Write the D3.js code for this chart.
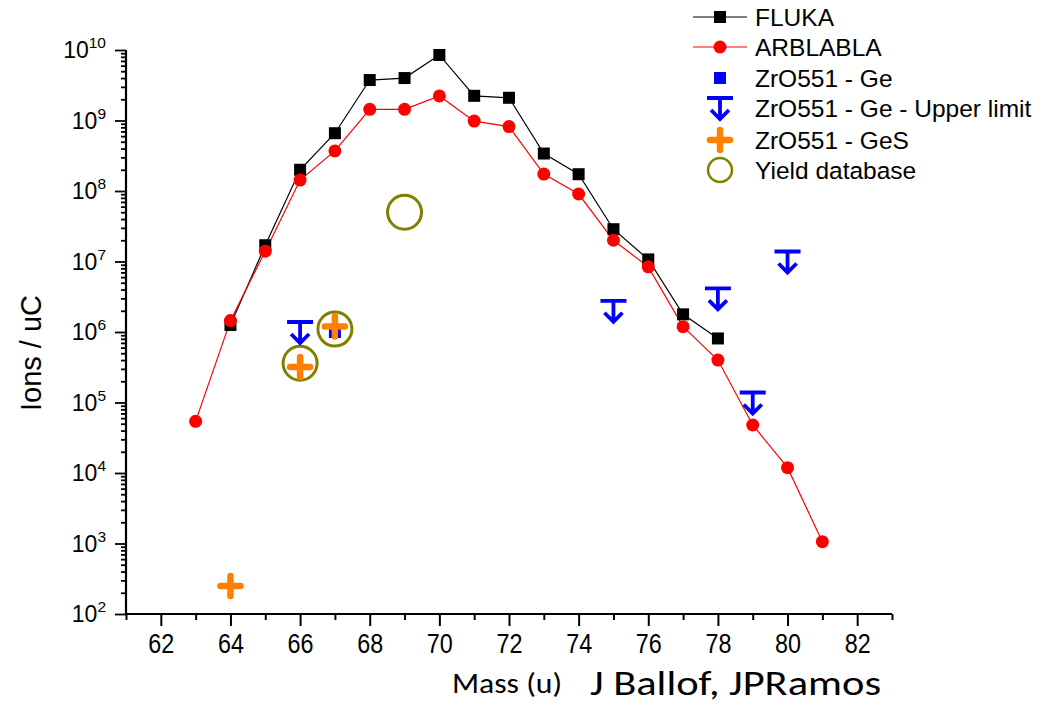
<!DOCTYPE html>
<html><head><meta charset="utf-8">
<script src="https://cdn.jsdelivr.net/npm/d3@7"></script>
<style>body{margin:0;background:#fff}svg{display:block}</style>
</head><body>
<svg id="c" width="1046" height="711"></svg>
<script>
// ---- data ----
const flukaMass = [64,65,66,67,68,69,70,71,72,73,74,75,76,77,78];
const flukaVals = [1.26e6,1.7e7,2.0e8,6.6e8,3.75e9,4.0e9,8.5e9,2.24e9,2.1e9,3.4e8,1.73e8,2.87e7,1.07e7,1.78e6,8.1e5];
const arbMass = [63,64,65,66,67,68,69,70,71,72,73,74,75,76,77,78,79,80,81];
const arbVals = [5.4e4,1.45e6,1.4e7,1.43e8,3.7e8,1.44e9,1.44e9,2.23e9,9.8e8,8.2e8,1.74e8,9.06e7,2.0e7,8.4e6,1.19e6,4.0e5,4.8e4,1.19e4,1.06e3];
const geMass = [67];
const geVals = [1.0e6];
const ulMass = [66,75,78,79,80];
const ulVals = [1.0e6,2.0e6,3.0e6,1.0e5,1.0e7];
const gesMass = [64,66,67];
const gesVals = [2.5e2,3.2e5,1.2e6];
const yieldMass = [66,67,69];
const yieldVals = [3.6e5,1.1e6,5.0e7];
const xMajorTicks = [62,64,66,68,70,72,74,76,78,80,82];
const xMinorTicks = [61,63,65,67,69,71,73,75,77,79,81,83];
const yExponents = [2,3,4,5,6,7,8,9,10];
const legendLabels = ["FLUKA","ARBLABLA","ZrO551 - Ge","ZrO551 - Ge - Upper limit","ZrO551 - GeS","Yield database"];
const xTitle = "Mass (u)";
const yTitle = "Ions / uC";
const credit = "J Ballof, JPRamos";

// ---- setup ----
const svg = d3.select("#c");
const x = d3.scaleLinear().domain([61,83]).range([126,892]);
const y = d3.scaleLog().domain([1e2,1e10]).range([614,50]);
const BLUE="#0000ff", ORANGE="#ff8000", OLIVE="#808000", RED="#ff0000";
const SANS = "Liberation Sans, Arial, sans-serif";

// axes
const minorY = [];
yExponents.slice(0,-1).forEach(e=>{for(let k=2;k<=9;k++) minorY.push(k*Math.pow(10,e));});

const gx = svg.append("g").attr("transform","translate(0,614)");
gx.call(d3.axisBottom(x).tickValues(xMinorTicks).tickSize(6).tickFormat(""));
gx.call(g=>g.selectAll(".domain").remove());
const gx2 = svg.append("g").attr("transform","translate(0,614)");
gx2.call(d3.axisBottom(x).tickValues(xMajorTicks).tickSize(12).tickPadding(8).tickFormat(d=>d));
gx2.selectAll("text").attr("font-family","Liberation Sans Narrow, "+SANS).attr("font-size",27)
  .attr("fill","#000").attr("textLength",26).attr("lengthAdjust","spacingAndGlyphs");
gx2.select(".domain").attr("d","M126,0H892");
[gx,gx2].forEach(g=>{g.selectAll("line").attr("stroke","#000").attr("stroke-width",2);g.selectAll(".domain").attr("stroke","#000").attr("stroke-width",2.2);});

const gy = svg.append("g").attr("transform","translate(126,0)");
gy.call(d3.axisLeft(y).tickValues(minorY).tickSize(5).tickFormat(""));
gy.select(".domain").remove();
const gy2 = svg.append("g").attr("transform","translate(126,0)");
gy2.call(d3.axisLeft(y).tickValues(yExponents.map(e=>Math.pow(10,e))).tickSize(11).tickFormat(""));
gy2.select(".domain").attr("d","M0,50V614");
[gy,gy2].forEach(g=>{g.selectAll("line").attr("stroke","#000").attr("stroke-width",1.8);g.selectAll(".domain").attr("stroke","#000").attr("stroke-width",2.2);});
yExponents.forEach(e=>{
  const t = svg.append("text").attr("x",106).attr("y",y(Math.pow(10,e))+8)
    .attr("text-anchor","end").attr("font-family",SANS).attr("font-size",23).attr("fill","#000");
  t.append("tspan").text("10");
  t.append("tspan").attr("font-size",15.5).attr("dy",-10).text(String(e));
});

// titles
svg.append("text").attr("transform","translate(41,353) rotate(-90)").attr("text-anchor","middle")
  .attr("font-family",SANS).attr("font-size",29).text(yTitle);
svg.append("text").attr("x",452).attr("y",693).attr("font-family","Carlito, Lato, "+SANS)
  .attr("font-size",28).attr("textLength",110).attr("lengthAdjust","spacingAndGlyphs").text(xTitle);
svg.append("text").attr("x",590).attr("y",695).attr("font-family","Carlito, Lato, "+SANS)
  .attr("font-size",35).attr("textLength",291).attr("lengthAdjust","spacingAndGlyphs").text(credit);

// marker helpers
function ulSymbol(g){
  g.append("path").attr("d","M-13,-10H13M0,-10V11M-9,2L0,11L9,2")
   .attr("fill","none").attr("stroke",BLUE).attr("stroke-width",3.8).attr("stroke-linejoin","miter");
}
function plusSymbol(g){
  g.append("path").attr("d","M-10,0H10M0,-10V10").attr("stroke",ORANGE).attr("stroke-width",6.5).attr("stroke-linecap","round");
}

// lines
const line = d3.line().x(d=>x(d[0])).y(d=>y(d[1]));
svg.append("path").datum(flukaMass.map((m,i)=>[m,flukaVals[i]])).attr("d",line).attr("fill","none").attr("stroke","#000").attr("stroke-width",1.2);
svg.append("path").datum(arbMass.map((m,i)=>[m,arbVals[i]])).attr("d",line).attr("fill","none").attr("stroke",RED).attr("stroke-width",1.2);

// fluka squares
svg.append("g").selectAll("rect").data(flukaMass.map((m,i)=>[m,flukaVals[i]])).join("rect")
  .attr("x",d=>x(d[0])-6).attr("y",d=>y(d[1])-6).attr("width",12).attr("height",12).attr("fill","#000");
// arb circles
svg.append("g").selectAll("circle").data(arbMass.map((m,i)=>[m,arbVals[i]])).join("circle")
  .attr("cx",d=>x(d[0])).attr("cy",d=>y(d[1])).attr("r",6.5).attr("fill",RED);
// yield rings
svg.append("g").selectAll("circle").data(yieldMass.map((m,i)=>[m,yieldVals[i]])).join("circle")
  .attr("cx",d=>x(d[0])).attr("cy",d=>y(d[1])).attr("r",17).attr("fill","none").attr("stroke",OLIVE).attr("stroke-width",3);
// Ge squares
svg.append("g").selectAll("rect").data(geMass.map((m,i)=>[m,geVals[i]])).join("rect")
  .attr("x",d=>x(d[0])-6).attr("y",d=>y(d[1])-6).attr("width",12).attr("height",12).attr("fill",BLUE);
// upper limits
ulMass.forEach((m,i)=>{ulSymbol(svg.append("g").attr("transform",`translate(${x(m)},${y(ulVals[i])})`));});
// GeS plus
gesMass.forEach((m,i)=>{plusSymbol(svg.append("g").attr("transform",`translate(${x(m)},${y(gesVals[i])})`));});

// legend
const rowY = [17,47,78,108,140,170];
const lg = svg.append("g");
lg.append("line").attr("x1",693).attr("x2",747).attr("y1",rowY[0]).attr("y2",rowY[0]).attr("stroke","#000").attr("stroke-width",1.2);
lg.append("rect").attr("x",714).attr("y",rowY[0]-6).attr("width",12).attr("height",12).attr("fill","#000");
lg.append("line").attr("x1",693).attr("x2",747).attr("y1",rowY[1]).attr("y2",rowY[1]).attr("stroke",RED).attr("stroke-width",1.2);
lg.append("circle").attr("cx",720).attr("cy",rowY[1]).attr("r",6.5).attr("fill",RED);
lg.append("rect").attr("x",714).attr("y",rowY[2]-6).attr("width",12).attr("height",12).attr("fill",BLUE);
ulSymbol(lg.append("g").attr("transform",`translate(720,${rowY[3]})`));
plusSymbol(lg.append("g").attr("transform",`translate(720,${rowY[4]})`));
lg.append("circle").attr("cx",720).attr("cy",rowY[5]).attr("r",12).attr("fill","none").attr("stroke",OLIVE).attr("stroke-width",2.5);
legendLabels.forEach((t,i)=>{
  lg.append("text").attr("x",755).attr("y",rowY[i]+9).attr("font-family",SANS).attr("font-size",24.5).attr("fill","#000").text(t);
});
</script>
</body></html>
